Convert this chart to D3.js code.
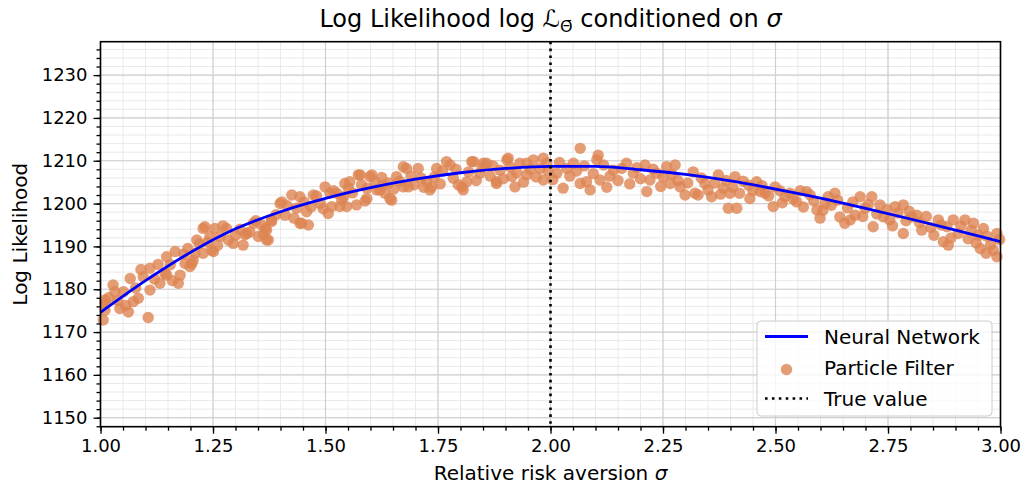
<!DOCTYPE html>
<html><head><meta charset="utf-8">
<script src="https://cdn.jsdelivr.net/npm/d3@7"></script>
<style>body{margin:0;background:#fff;} svg{display:block;font-family:"DejaVu Sans",sans-serif;}</style>
</head><body>
<svg id="c" width="1025" height="487"></svg>
<script>
// Neural network curve (sigma, log-likelihood)
const nnSigma = [1.0,1.1,1.2,1.3,1.4,1.5,1.6,1.7,1.8,1.9,2.0,2.1,2.2,2.3,2.4,2.5,2.6,2.7,2.8,2.9,3.0];
const nnLogLik = [1174.6,1182.0,1188.6,1194.1,1198.1,1201.2,1203.7,1205.7,1207.2,1208.2,1208.7,1208.7,1207.9,1206.8,1205.3,1203.4,1201.3,1198.9,1196.4,1193.8,1191.1];

// Particle filter samples [sigma, log-likelihood]
const pfPoints = [
[1.006,1172.8],[1.010,1176.7],[1.010,1177.5],[1.010,1175.1],[1.028,1181.0],[1.032,1179.4],[1.043,1175.5],[1.051,1179.4],
[1.062,1174.7],[1.066,1182.5],[1.073,1177.1],[1.084,1177.9],[1.095,1182.9],[1.106,1173.4],[1.110,1184.9],[1.110,1179.8],
[1.132,1181.4],[1.143,1183.7],[1.147,1187.6],[1.147,1183.3],[1.166,1188.8],[1.173,1181.4],[1.177,1183.3],[1.188,1186.0],
[1.199,1185.3],[1.203,1186.0],[1.206,1186.8],[1.210,1188.4],[1.214,1191.5],[1.228,1194.2],[1.228,1188.4],[1.232,1194.6],
[1.243,1192.3],[1.247,1189.1],[1.251,1188.8],[1.254,1194.2],[1.266,1192.3],[1.280,1194.2],[1.284,1191.5],[1.295,1190.7],
[1.317,1190.3],[1.321,1192.7],[1.325,1193.0],[1.340,1195.4],[1.351,1192.3],[1.358,1195.0],[1.366,1194.2],[1.369,1193.8],
[1.369,1191.5],[1.373,1191.5],[1.380,1196.2],[1.380,1195.8],[1.399,1200.0],[1.403,1200.4],[1.410,1197.3],[1.425,1202.0],
[1.436,1198.9],[1.443,1201.6],[1.443,1195.4],[1.447,1195.4],[1.458,1198.1],[1.462,1195.0],[1.473,1202.0],[1.488,1200.0],
[1.499,1203.9],[1.506,1197.7],[1.510,1202.4],[1.514,1199.3],[1.525,1202.4],[1.532,1199.3],[1.536,1200.8],[1.543,1204.7],
[1.547,1199.3],[1.551,1203.6],[1.554,1205.1],[1.569,1199.7],[1.573,1206.7],[1.577,1206.7],[1.592,1201.2],[1.592,1203.6],
[1.599,1206.3],[1.603,1206.7],[1.614,1203.2],[1.621,1203.2],[1.628,1204.3],[1.632,1202.4],[1.643,1201.2],[1.647,1200.8],
[1.658,1206.3],[1.673,1208.6],[1.673,1203.9],[1.680,1208.2],[1.684,1203.9],[1.706,1208.2],[1.725,1205.1],[1.732,1203.2],
[1.736,1203.9],[1.747,1208.2],[1.769,1209.8],[1.777,1209.0],[1.784,1205.9],[1.803,1203.9],[1.806,1203.2],[1.814,1205.1],
[1.825,1209.8],[1.829,1209.8],[1.843,1207.1],[1.851,1209.4],[1.858,1209.4],[1.880,1205.1],[1.880,1204.7],[1.888,1207.8],
[1.903,1210.2],[1.906,1210.6],[1.914,1206.3],[1.921,1203.9],[1.932,1209.4],[1.947,1206.7],[1.947,1209.4],[1.962,1210.2],
[1.977,1208.2],[1.984,1210.6],[1.984,1205.5],[1.992,1209.4],[2.014,1207.1],[2.028,1203.6],[2.036,1208.2],[2.051,1209.4],
[2.066,1212.9],[2.066,1204.7],[2.080,1205.1],[2.088,1203.2],[2.103,1210.2],[2.106,1211.3],[2.110,1205.5],[2.140,1207.8],
[2.169,1209.4],[2.184,1207.1],[2.210,1209.0],[2.214,1202.8],[2.221,1205.5],[2.236,1207.1],[2.258,1208.6],[2.266,1204.7],
[2.277,1209.0],[2.288,1203.9],[2.299,1202.0],[2.317,1207.4],[2.321,1202.4],[2.328,1202.0],[2.343,1204.7],[2.358,1201.6],
[2.373,1206.7],[2.384,1203.6],[2.395,1198.9],[2.399,1202.4],[2.410,1206.3],[2.414,1198.9],[2.440,1204.3],[2.443,1201.2],
[2.458,1205.1],[2.466,1202.8],[2.477,1202.4],[2.495,1199.3],[2.499,1203.9],[2.521,1201.6],[2.532,1202.4],[2.547,1200.4],
[2.569,1202.8],[2.577,1202.0],[2.592,1198.5],[2.599,1196.6],[2.610,1200.0],[2.617,1201.6],[2.632,1202.4],[2.643,1196.9],
[2.654,1195.4],[2.666,1196.2],[2.677,1197.3],[2.688,1201.6],[2.699,1198.9],[2.714,1201.6],[2.717,1194.6],[2.732,1199.7],
[2.740,1196.9],[2.754,1196.2],[2.766,1199.3],[2.784,1199.7],[2.784,1193.0],[2.803,1196.9],[2.814,1197.3],[2.825,1193.8],
[2.862,1196.2],[2.873,1191.1],[2.881,1194.6],[2.884,1190.3],[2.895,1196.2],[2.906,1193.0],[2.921,1196.2],[2.940,1195.4],
[2.951,1192.6],[2.955,1189.5],[2.962,1194.2],[2.984,1189.1],[2.992,1193.0],[2.992,1187.6],
// additional samples in the dense band
[1.018,1178.0],[1.038,1177.4],[1.056,1176.2],[1.078,1180.3],[1.090,1184.6],[1.120,1182.4],[1.128,1185.8],[1.155,1185.7],
[1.160,1182.0],[1.185,1188.2],[1.194,1189.5],[1.220,1190.6],[1.238,1191.0],[1.260,1190.2],[1.272,1194.8],[1.300,1192.6],
[1.310,1194.0],[1.332,1193.4],[1.345,1196.0],[1.362,1192.8],[1.390,1197.4],[1.415,1199.5],[1.430,1196.6],[1.452,1200.4],
[1.468,1199.2],[1.480,1201.8],[1.495,1198.8],[1.518,1203.0],[1.540,1201.6],[1.560,1202.5],[1.580,1204.4],[1.588,1200.6],
[1.610,1205.0],[1.625,1206.1],[1.640,1204.8],[1.652,1203.4],[1.665,1205.2],[1.690,1206.4],[1.697,1204.4],[1.712,1206.0],
[1.718,1203.8],[1.742,1206.2],[1.755,1204.6],[1.760,1207.6],[1.790,1208.0],[1.795,1204.4],[1.818,1207.4],[1.835,1205.4],
[1.848,1208.4],[1.866,1206.4],[1.872,1208.8],[1.895,1205.8],[1.910,1208.6],[1.925,1207.2],[1.940,1205.0],[1.955,1208.0],
[1.968,1206.2],[1.995,1207.6],[2.005,1205.6],[2.020,1209.6],[2.043,1206.4],[2.058,1207.6],[2.075,1208.8],[2.095,1207.0],
[2.118,1209.0],[2.125,1203.8],[2.132,1206.4],[2.150,1205.4],[2.158,1208.2],[2.176,1204.6],[2.192,1208.4],[2.200,1205.8],
[2.228,1208.0],[2.245,1204.0],[2.250,1206.2],[2.270,1206.8],[2.283,1205.4],[2.305,1204.8],[2.335,1206.0],[2.350,1203.2],
[2.365,1204.8],[2.378,1202.2],[2.390,1205.4],[2.405,1203.8],[2.420,1202.4],[2.428,1205.2],[2.450,1203.0],[2.470,1204.2],
[2.485,1201.8],[2.510,1203.0],[2.515,1200.2],[2.540,1201.0],[2.555,1203.0],[2.562,1199.2],[2.585,1200.6],[2.605,1198.4],
[2.624,1199.6],[2.638,1200.8],[2.660,1199.0],[2.672,1200.4],[2.694,1197.0],[2.706,1199.8],[2.725,1197.6],[2.748,1198.6],
[2.760,1194.8],[2.772,1197.8],[2.790,1196.0],[2.797,1198.2],[2.820,1195.6],[2.835,1197.0],[2.845,1194.4],[2.852,1192.6],
[2.868,1195.0],[2.890,1192.0],[2.912,1194.8],[2.928,1191.8],[2.935,1193.8],[2.946,1190.8],[2.970,1192.4],[2.978,1190.4],
[2.998,1191.6],[2.968,1188.4]
];

const trueSigma = 2.0;
const xTicks = [1.00,1.25,1.50,1.75,2.00,2.25,2.50,2.75,3.00];
const yTicks = [1150,1160,1170,1180,1190,1200,1210,1220,1230];
const xMinor = d3.range(1.0, 3.0001, 0.05);
const yMinor = d3.range(1148, 1237, 2);

const svg = d3.select("#c");
const L = 100.5, R = 1000.5, T = 41.7, B = 426.7;
const x = d3.scaleLinear().domain([1,3]).range([L,R]);
const y = d3.scaleLinear().domain([1147.9,1237.8]).range([B,T]);

// grid
const g = svg.append("g");
g.selectAll(".vmin").data(xMinor).join("line").attr("x1",d=>x(d)).attr("x2",d=>x(d)).attr("y1",T).attr("y2",B).attr("stroke","#e9e9e9").attr("stroke-width",1);
g.selectAll(".hmin").data(yMinor).join("line").attr("y1",d=>y(d)).attr("y2",d=>y(d)).attr("x1",L).attr("x2",R).attr("stroke","#e9e9e9").attr("stroke-width",1);
g.selectAll(".vmaj").data(xTicks).join("line").attr("x1",d=>x(d)).attr("x2",d=>x(d)).attr("y1",T).attr("y2",B).attr("stroke","#d0d0d0").attr("stroke-width",1.2);
g.selectAll(".hmaj").data(yTicks).join("line").attr("y1",d=>y(d)).attr("y2",d=>y(d)).attr("x1",L).attr("x2",R).attr("stroke","#d0d0d0").attr("stroke-width",1.2);

// scatter
svg.append("g").selectAll("circle").data(pfPoints).join("circle")
  .attr("cx",d=>x(d[0])).attr("cy",d=>y(d[1])).attr("r",5.7)
  .attr("fill","#dd8452").attr("fill-opacity",0.8);

// NN line
const line = d3.line().x((d,i)=>x(nnSigma[i])).y(d=>y(d)).curve(d3.curveMonotoneX);
svg.append("path").datum(nnLogLik).attr("d",line).attr("fill","none").attr("stroke","#0000ff").attr("stroke-width",2.8);

// true value
svg.append("line").attr("x1",x(trueSigma)).attr("x2",x(trueSigma)).attr("y1",T).attr("y2",B)
  .attr("stroke","#000").attr("stroke-width",2.6).attr("stroke-dasharray","2.6 4.3");

// axes
const fmt = d3.format(".2f");
const ax = svg.append("g").attr("transform",`translate(0,${B})`)
  .call(d3.axisBottom(x).tickValues(xTicks).tickFormat(fmt).tickSize(7).tickPadding(6));
const axm = svg.append("g").attr("transform",`translate(0,${B})`)
  .call(d3.axisBottom(x).tickValues(xMinor).tickFormat("").tickSize(4));
const ay = svg.append("g").attr("transform",`translate(${L},0)`)
  .call(d3.axisLeft(y).tickValues(yTicks).tickFormat(d3.format("d")).tickSize(7).tickPadding(6));
const aym = svg.append("g").attr("transform",`translate(${L},0)`)
  .call(d3.axisLeft(y).tickValues(yMinor).tickFormat("").tickSize(4));
[ax,axm,ay,aym].forEach(a=>{a.select(".domain").remove(); a.selectAll("line").attr("stroke","#000").attr("stroke-width",1.3);
  a.selectAll("text").attr("font-size",18).attr("fill","#000").attr("font-family","DejaVu Sans");});

// frame
svg.append("rect").attr("x",L).attr("y",T).attr("width",R-L).attr("height",B-T).attr("fill","none").attr("stroke","#000").attr("stroke-width",1.6);

// legend
const lg = svg.append("g");
lg.append("rect").attr("x",757).attr("y",321).attr("width",235).attr("height",95).attr("rx",4)
  .attr("fill","#fff").attr("fill-opacity",0.8).attr("stroke","#cccccc").attr("stroke-width",1);
lg.append("line").attr("x1",765).attr("x2",808).attr("y1",336.5).attr("y2",336.5).attr("stroke","#0000ff").attr("stroke-width",2.8);
lg.append("circle").attr("cx",786.5).attr("cy",369.5).attr("r",5.7).attr("fill","#dd8452").attr("fill-opacity",0.8);
lg.append("line").attr("x1",765).attr("x2",808).attr("y1",398.5).attr("y2",398.5).attr("stroke","#000").attr("stroke-width",2.6).attr("stroke-dasharray","2.6 4.3");
const lgText = ["Neural Network","Particle Filter","True value"];
lg.selectAll("text").data(lgText).join("text").attr("x",824).attr("y",(d,i)=>343.5+i*31)
  .attr("font-size",20).text(d=>d);

// labels
svg.append("text").attr("x",(L+R)/2).attr("y",480).attr("text-anchor","middle").attr("font-size",20)
  .html('Relative risk aversion <tspan font-style="italic">σ</tspan>');
svg.append("text").attr("transform",`translate(27,${(T+B)/2}) rotate(-90)`).attr("text-anchor","middle").attr("font-size",20)
  .text("Log Likelihood");
svg.append("text").attr("x",(L+R)/2).attr("y",27).attr("text-anchor","middle").attr("font-size",24)
  .html('Log Likelihood log <tspan font-style="italic">ℒ</tspan><tspan font-size="16" dy="5">Θ̄</tspan><tspan dy="-5"> conditioned on </tspan><tspan font-style="italic">σ</tspan>');
</script>
</body></html>
